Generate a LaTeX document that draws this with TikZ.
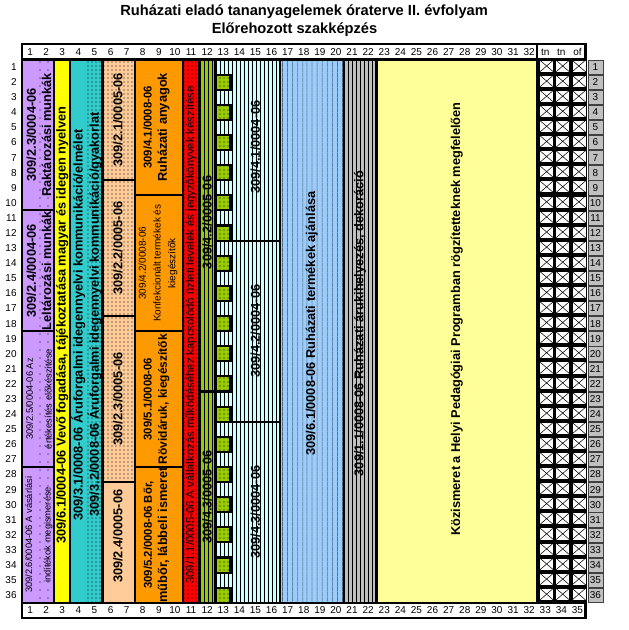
\documentclass[tikz,border=0pt]{standalone}
\usepackage{fontspec}
\setmainfont{Liberation Sans}
\usepackage{tikz}
\usetikzlibrary{patterns.meta}

\definecolor{cLilac}{HTML}{CC99FF}
\definecolor{cLemon}{HTML}{FFFF00}
\definecolor{cTeal}{HTML}{33CCCC}
\definecolor{cPeach}{HTML}{FFCC99}
\definecolor{cAmber}{HTML}{FF9900}
\definecolor{cRed}{HTML}{FF0000}
\definecolor{cLime}{HTML}{99CC00}
\definecolor{cIce}{HTML}{CCFFFF}
\definecolor{cSky}{HTML}{99CCFF}
\definecolor{cSilver}{HTML}{C0C0C0}
\definecolor{cCream}{HTML}{FFFF99}

\newcommand\smallcode[1]{{\fontsize{8.5}{11.5}\selectfont #1}}

\begin{document}
\begin{tikzpicture}[x=12.075pt, y=-11.3175pt]
    \tikzset{
      blockline/.style={draw=black, line width=1.6pt},
      bigtext/.style={rotate=90, align=center, inner sep=0pt,
        font=\fontsize{9.6}{11.5}\selectfont\bfseries},
      smalltext/.style={rotate=90, align=center, inner sep=0pt,
        font=\fontsize{7}{11}\selectfont},
      cellnum/.style={inner sep=0pt, font=\fontsize{7.5}{9}\selectfont},
      stripes/.style={pattern={Lines[angle=90, distance=#1, line width=0.45pt]},
        pattern color=black},
      specks/.style={pattern={Dots[radius=0.4pt, distance=#1]},
        pattern color=black}
    }
    \useasboundingbox (-1.3665,-3.943) rectangle (37.64,37.806);

    % Title
    \node[font=\fontsize{11}{13}\selectfont\bfseries] (title) at (17.52,-3.15)
      {Ruházati eladó tananyagelemek óraterve II. évfolyam};
    \node[font=\fontsize{11}{13}\selectfont\bfseries] (subtitle) at (16.93,-1.95)
      {Előrehozott szakképzés};

    % Column numbers, top and bottom
    \draw[line width=1.6pt, fill=white] (0,-1) rectangle (35,0);
    \draw[line width=1.6pt] (32,-1) -- (32,0);
    \foreach \c in {1,...,32}
      \node[cellnum] (top\c) at (\c-0.5,-0.5) {\c};
    \node[cellnum] (tnA) at (32.5,-0.5) {tn};
    \node[cellnum] (tnB) at (33.5,-0.5) {tn};
    \node[cellnum] (of) at (34.5,-0.5) {of};
    \draw[line width=1.6pt, fill=white] (0,36) rectangle (35,37);
    \foreach \c in {1,...,35}
      \node[cellnum] (bot\c) at (\c-0.5,36.5) {\c};

    % Row numbers on the left
    \foreach \r in {1,...,36}
      \node[cellnum, anchor=east] (row\r) at (-0.32,\r-0.5) {\r};

    % Columns 1-2
    \fill[cLilac] (0,0) rectangle (2,36);
    \fill[specks=6pt] (1,0) rectangle (2,36);
    \draw[blockline] (0,0) rectangle (2,10);
    \draw[blockline] (0,10) rectangle (2,18);
    \draw[blockline] (0,18) rectangle (2,27);
    \draw[blockline] (0,27) rectangle (2,36);
    \node[bigtext] (raktar) at (1.05,5) {309/2.3/0004-06\\Raktározási munkák};
    \node[bigtext] (leltar) at (1.05,14) {309/2.4/0004-06\\Leltározási munkák};
    \node[smalltext] (elokesz) at (1.05,22.5)
      {309/2.5/0004-06 Az\\[3pt]értékesítés előkészítése};
    \node[smalltext] (vasarlas) at (1.05,31.5)
      {309/2.6/0004-06 A vásárlási\\[3pt]indítékok megismerése};

    % Columns 3-5
    \draw[blockline, fill=cLemon] (2,0) rectangle (3,36);
    \fill[cTeal] (3,0) rectangle (5,36);
    \fill[specks=3pt] (4,0) rectangle (5,36);
    \draw[blockline] (3,0) rectangle (5,36);
    \node[bigtext] (vevo) at (2.5,17.6)
      {309/6.1/0004-06 Vevő fogadása, tájékoztatása magyar és idegen nyelven};
    \node[bigtext] (elmelet) at (3.5,17.6)
      {309/3.1/0008-06 Áruforgalmi idegennyelvi kommunikáció/elmélet};
    \node[bigtext] (gyakorlat) at (4.5,16.9)
      {309/3.2/0008-06 Áruforgalmi idegennyelvi kommunikáció/gyakorlat};

    % Columns 6-7
    \fill[cPeach] (5,0) rectangle (7,36);
    \fill[specks=3pt] (5,0) rectangle (7,28);
    \draw[blockline] (5,0) rectangle (7,8);
    \draw[blockline] (5,8) rectangle (7,17);
    \draw[blockline] (5,17) rectangle (7,28);
    \draw[blockline] (5,28) rectangle (7,36);
    \node[bigtext] (peachA) at (5.95,4) {309/2.1/0005-06};
    \node[bigtext] (peachB) at (5.95,12.5) {309/2.2/0005-06};
    \node[bigtext] (peachC) at (5.95,22.5) {309/2.3/0005-06};
    \node[bigtext] (peachD) at (5.95,31.6) {309/2.4/0005-06};

    % Columns 8-10
    \draw[blockline, fill=cAmber] (7,0) rectangle (10,9);
    \draw[blockline, fill=cAmber] (7,9) rectangle (10,18);
    \draw[blockline, fill=cAmber] (7,18) rectangle (10,27);
    \draw[blockline, fill=cAmber] (7,27) rectangle (10,36);
    \node[bigtext] (anyag) at (8.35,4.5)
      {\smallcode{309/4.1/0008-06}\\Ruházati anyagok};
    \node[smalltext, font=\fontsize{7.5}{11}\selectfont] (konfekcio) at (8.45,13.5)
      {309/4.2/0008-06\\Konfekcionált termékek és\\kiegészítők};
    \node[bigtext, font=\fontsize{9}{11.5}\selectfont\bfseries] (rovid) at (8.35,22.5)
      {\smallcode{309/5.1/0008-06}\\Rövidáruk, kiegészítők};
    \node[bigtext] (bor) at (8.35,31.5)
      {\smallcode{309/5.2/0008-06 Bőr,}\\műbőr, lábbeli ismeret};

    % Column 11
    \fill[cRed] (10,0) rectangle (11,36);
    \fill[specks=3pt] (10,0) rectangle (11,36);
    \draw[blockline] (10,0) rectangle (11,36);
    \node[smalltext, font=\fontsize{8.5}{11}\selectfont] (levelek) at (10.5,18.25)
      {309/1.1/0005-06 A vállalkozás működéséhez kapcsolódó üzleti levelek és jegyzőkönyvek készítése};

    % Columns 12-16
    \fill[cLime] (11,0) rectangle (12,36);
    \fill[stripes=3pt] (11,0) rectangle (12,36);
    \draw[blockline] (11,0) rectangle (12,22);
    \draw[blockline] (11,22) rectangle (12,36);
    \fill[cIce] (12,0) rectangle (16,36);
    \fill[stripes=3pt] (12,0) rectangle (16,36);
    \draw[blockline] (12,0) rectangle (16,12);
    \draw[blockline] (12,12) rectangle (16,24);
    \draw[blockline] (12,24) rectangle (16,36);
    \foreach \r in {1,3,...,35} {
      \fill[cLime] (12,\r) rectangle (12.95,\r+1);
      \fill[specks=3pt] (12,\r) rectangle (12.95,\r+1);
      \draw[blockline] (12,\r) rectangle (12.95,\r+1);
    }
    \draw[line width=2pt] (12,0) -- (12,36);
    \node[bigtext] (greenA) at (11.5,10.8) {309/4.2/0005-06};
    \node[bigtext] (greenB) at (11.5,29) {309/4.3/0005-06};
    \node[bigtext] (iceA) at (14.5,5.8) {309/4.1/0004-06};
    \node[bigtext] (iceB) at (14.5,18) {309/4.2/0004-06};
    \node[bigtext] (iceC) at (14.5,30) {309/4.3/0004-06};

    % Columns 17-22
    \fill[cSky] (16,0) rectangle (20,36);
    \fill[stripes=4pt] (16,0) rectangle (20,36);
    \draw[blockline] (16,0) rectangle (20,36);
    \fill[cSilver] (20,0) rectangle (22,36);
    \fill[stripes=3pt] (20,0) rectangle (22,36);
    \draw[blockline] (20,0) rectangle (22,36);
    \node[bigtext] (ajanlas) at (18,17.5)
      {309/6.1/0008-06 Ruházati termékek ajánlása};
    \node[bigtext] (dekor) at (21,17.5)
      {309/1.1/0008-06 Ruházati árukihelyezés, dekoráció};

    % Columns 23-32
    \draw[blockline, fill=cCream] (22,0) rectangle (32,36);
    \draw[line width=2.4pt] (22,0) -- (22,36);
    \node[bigtext] (kozism) at (27,17.2)
      {Közismeret a Helyi Pedagógiai Programban rögzítetteknek megfelelően};

    % Crossed boxes and row labels on the right
    \fill[black] (32,0) rectangle (35.1,36);
    \foreach \c in {32,33,34}
      \foreach \r in {0,...,35} {
        \draw[fill=white, line width=0.4pt] (\c+0.15,\r+0.03) rectangle (\c+1.02,\r+0.83);
        \draw[line width=0.4pt] (\c+0.15,\r+0.03) -- (\c+1.02,\r+0.83)
          (\c+0.15,\r+0.83) -- (\c+1.02,\r+0.03);
      }
    \foreach \r in {1,...,36} {
      \draw[fill=cSilver, draw=gray!50!black, line width=0.3pt]
        (35.15,\r-0.97) rectangle (36.1,\r-0.03);
      \node[cellnum] (lab\r) at (35.62,\r-0.5) {\r};
    }
  \end{tikzpicture}
\end{document}
